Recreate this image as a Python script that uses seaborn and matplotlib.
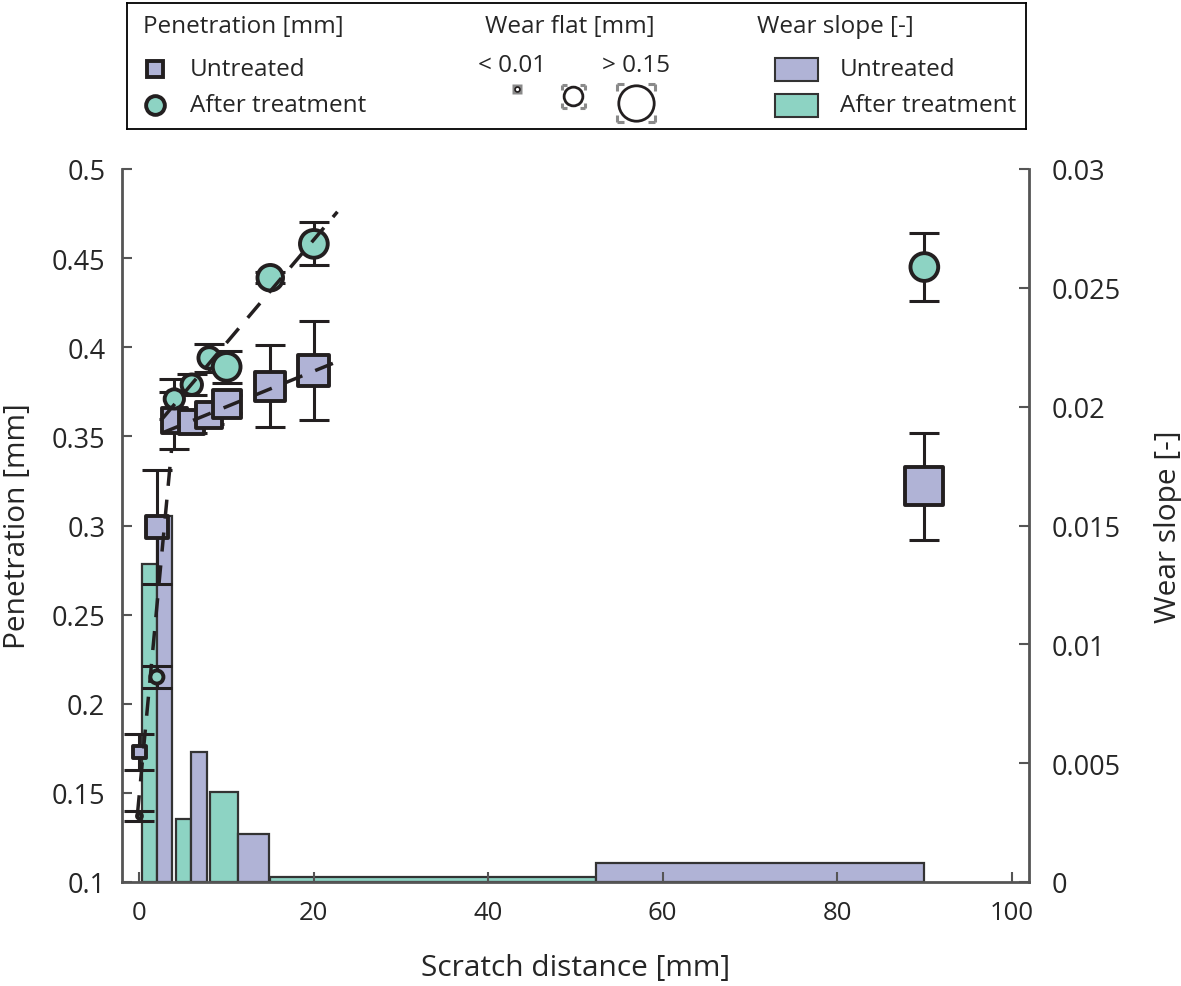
import numpy as np
import pandas as pd
import matplotlib
matplotlib.use("Agg")
import matplotlib.pyplot as plt
import seaborn as sns
from matplotlib.patches import Rectangle
from matplotlib.ticker import FuncFormatter, MultipleLocator

# penetration vs scratch distance, mean +- error, marker size = wear flat
distance = [0, 2, 4, 6, 8, 10, 15, 20, 90]
pen_untreated = [0.173, 0.299, 0.359, 0.358, 0.362, 0.368, 0.378, 0.387, 0.322]
err_untreated = [0.010, 0.032, 0.016, 0.006, 0.005, 0.005, 0.023, 0.028, 0.030]
pen_treated = [0.137, 0.215, 0.371, 0.379, 0.394, 0.389, 0.439, 0.458, 0.445]
err_treated = [0.003, 0.006, 0.011, 0.006, 0.008, 0.009, 0.003, 0.012, 0.019]
flat_untreated = [0.043, 0.089, 0.099, 0.099, 0.103, 0.113, 0.122, 0.127, 0.160]
flat_treated = [0.010, 0.047, 0.075, 0.080, 0.085, 0.113, 0.103, 0.113, 0.113]

# wear slope bars (interval edges in mm)
slope_left_treated = [0.25, 4.2, 8.1, 15.0]
slope_right_treated = [2.0, 5.9, 11.3, 52.4]
slope_treated = [0.0134, 0.00265, 0.0038, 0.0002]
slope_left_untreated = [2.0, 5.9, 11.3, 52.4]
slope_right_untreated = [3.7, 7.7, 14.8, 90.0]
slope_untreated = [0.0154, 0.00546, 0.0020, 0.0008]

# dashed trend lines
trend_x_early = [-0.23, 3.67]
trend_y_early = [0.138, 0.342]
trend_x_treated = [2.64, 22.7]
trend_y_treated = [0.360, 0.476]
trend_x_untreated = [2.64, 22.7]
trend_y_untreated = [0.352, 0.392]

LAV = "#b0b3d6"
TEAL = "#8dd3c3"
INK = "#231f20"
GREY = "#555555"
FONT = ["Open Sans", "DejaVu Sans"]


def body_pt(w):  # marker body size (pt) from wear flat (mm)
    return 1.9 + 160.0 * np.asarray(w)


sns.set_theme(style="ticks")
plt.rcParams["font.family"] = FONT

fig = plt.figure(figsize=(11.81, 9.87), dpi=100)
ax = fig.add_axes([122 / 1181, 1 - 883 / 987, (1029 - 122) / 1181, (883 - 170) / 987])
ax2 = ax.twinx()
ax.set_zorder(2); ax2.set_zorder(1); ax.patch.set_visible(False)

# bars on the right axis
for left, right, h, col in [(slope_left_treated, slope_right_treated, slope_treated, TEAL),
                            (slope_left_untreated, slope_right_untreated, slope_untreated, LAV)]:
    ax2.bar(left, h, width=np.subtract(right, left), align="edge", color=col,
            edgecolor="#333333", linewidth=1.6)

df = pd.DataFrame({"distance": distance * 2,
                   "pen": pen_untreated + pen_treated,
                   "err": err_untreated + err_treated,
                   "flat": flat_untreated + flat_treated,
                   "group": ["Untreated"] * len(distance) + ["After treatment"] * len(distance)})

for grp in ["Untreated", "After treatment"]:
    sub = df[df.group == grp]
    ax.errorbar(sub.distance, sub.pen, yerr=sub.err, fmt="none", ecolor=INK,
                elinewidth=2.2, capsize=10.5, capthick=2.2, zorder=2)
for grp, marker, col in [("Untreated", "s", LAV), ("After treatment", "o", TEAL)]:
    sub = df[df.group == grp]
    sns.scatterplot(data=sub, x="distance", y="pen", s=body_pt(sub.flat) ** 2, marker=marker,
                    color=col, edgecolor=INK, linewidth=2.8, legend=False, ax=ax, zorder=3)

for tx, ty in [(trend_x_early, trend_y_early), (trend_x_treated, trend_y_treated),
               (trend_x_untreated, trend_y_untreated)]:
    ax.plot(tx, ty, color=INK, lw=2.5, dashes=(5.5, 4), zorder=4)

ax.set_xlim(-2, 102)
ax.set_ylim(0.1, 0.5)
ax2.set_ylim(0, 0.03)
ax.xaxis.set_major_locator(MultipleLocator(20))
ax.yaxis.set_major_locator(MultipleLocator(0.05))
ax2.yaxis.set_major_locator(MultipleLocator(0.005))
fmt = FuncFormatter(lambda v, p: f"{v:g}")
ax.yaxis.set_major_formatter(fmt)
ax2.yaxis.set_major_formatter(fmt)
ax.set_xlabel("Scratch distance [mm]", fontsize=21.5, labelpad=20)
ax.set_ylabel("Penetration [mm]", fontsize=21.5, labelpad=14)
ax2.set_ylabel("Wear slope [-]", fontsize=21.5, labelpad=24)

for s in ["top", "right"]:
    ax.spines[s].set_visible(False)
for s in ["top", "left", "bottom"]:
    ax2.spines[s].set_visible(False)
for a, names in [(ax, ["left", "bottom"]), (ax2, ["right"])]:
    for s in names:
        a.spines[s].set_color(GREY)
        a.spines[s].set_linewidth(2)
ax.tick_params(axis="y", direction="in", length=7, width=1.5, color=GREY,
               labelsize=19.5, pad=12)
ax.tick_params(axis="x", direction="in", length=7, width=1.5, color=GREY,
               labelsize=18.5, pad=13)
ax2.tick_params(axis="y", direction="in", length=7, width=1.5, color=GREY,
                labelsize=19.5, pad=16)

# legend box at top, drawn in pixel coordinates
lax = fig.add_axes([127 / 1181, 1 - 130 / 987, (1026 - 127) / 1181, 126 / 987])
lax.set_xlim(127, 1026); lax.set_ylim(130, 4)
lax.set_xticks([]); lax.set_yticks([])
for s in lax.spines.values():
    s.set_color("black"); s.set_linewidth(1.3)
tkw = dict(fontsize=17.5, va="center")
lax.text(143, 27, "Penetration [mm]", ha="left", **tkw)
lax.plot(155, 70, marker="s", ms=12, mfc=LAV, mec=INK, mew=2.8)
lax.plot(155, 106, marker="o", ms=13.5, mfc=TEAL, mec=INK, mew=2.8)
lax.text(190, 70, "Untreated", ha="left", **tkw)
lax.text(190, 106, "After treatment", ha="left", **tkw)

lax.text(570, 27, "Wear flat [mm]", ha="center", **tkw)
lax.text(512, 66, "< 0.01", ha="center", **tkw)
lax.text(636, 66, "> 0.15", ha="center", **tkw)
lax.plot(517, 90, marker="s", ms=7, mfc="#8a8a8a", mec="none")
lax.plot(517, 90, marker="o", ms=3.5, mfc="white", mec=INK, mew=1.2)


def corners(cx, cy, half, arm):
    for sx in (-1, 1):
        for sy in (-1, 1):
            x0, y0 = cx + sx * half, cy + sy * half
            lax.plot([x0, x0 - sx * arm], [y0, y0], color="#8a8a8a", lw=2.2, solid_capstyle="butt")
            lax.plot([x0, x0], [y0, y0 - sy * arm], color="#8a8a8a", lw=2.2, solid_capstyle="butt")


corners(573, 97, 11.5, 5)
lax.plot(573, 97, marker="o", ms=13.5, mfc="white", mec=INK, mew=2)
corners(636, 104, 19, 7)
lax.plot(636, 104, marker="o", ms=25.5, mfc="white", mec=INK, mew=2)

lax.text(757, 27, "Wear slope [-]", ha="left", **tkw)
lax.add_patch(Rectangle((775, 59), 43, 23, fc=LAV, ec="#333333", lw=1.5))
lax.add_patch(Rectangle((775, 95), 43, 23, fc=TEAL, ec="#333333", lw=1.5))
lax.text(840, 70, "Untreated", ha="left", **tkw)
lax.text(840, 106, "After treatment", ha="left", **tkw)

fig.savefig("out.png", dpi=100)
